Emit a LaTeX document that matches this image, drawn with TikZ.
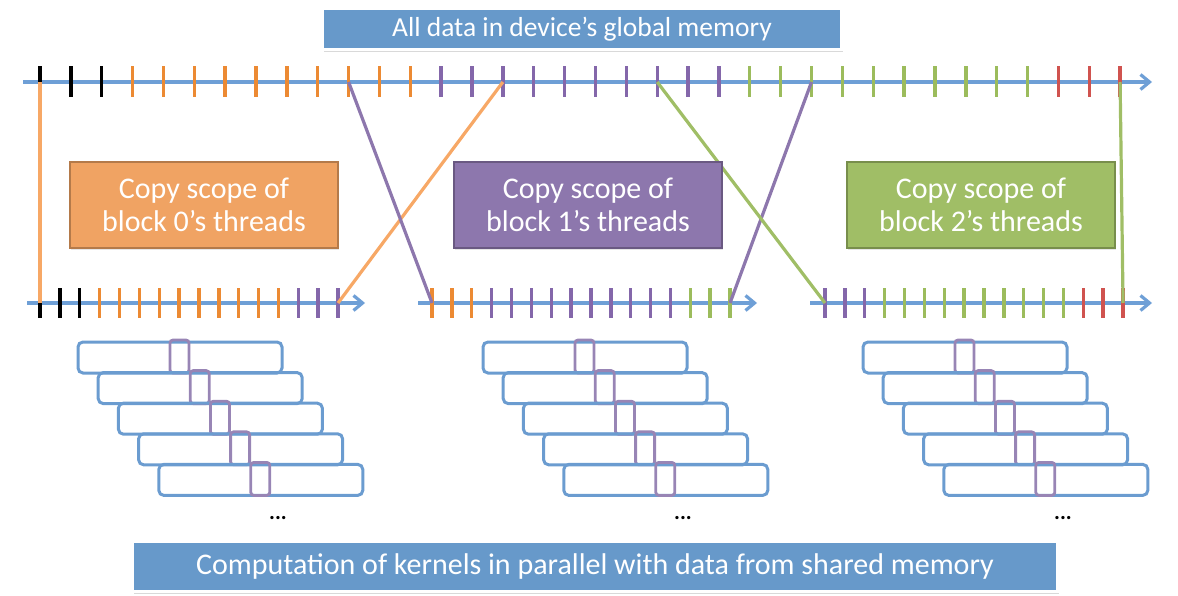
\documentclass[tikz,border=0pt]{standalone}
\usepackage{fontspec}
\setmainfont{Carlito}
\usetikzlibrary{arrows.meta,shadows}
\definecolor{sky}{RGB}{103,153,202}
\definecolor{axisblue}{RGB}{110,159,214}
\definecolor{rowblue}{RGB}{107,156,208}
\definecolor{tangerine}{RGB}{236,138,51}
\definecolor{peach}{RGB}{247,168,102}
\definecolor{plum}{RGB}{132,103,170}
\definecolor{lilac}{RGB}{141,119,173}
\definecolor{moss}{RGB}{156,188,92}
\definecolor{sage}{RGB}{160,190,102}
\definecolor{rust}{RGB}{208,83,79}
% colour of a slot by its place in global memory
\newcommand\pickcolor[1]{%
  \ifnum#1<3 \colorlet{tc}{black}\else
  \ifnum#1<13 \colorlet{tc}{tangerine}\else
  \ifnum#1<23 \colorlet{tc}{plum}\else
  \ifnum#1<33 \colorlet{tc}{moss}\else
  \colorlet{tc}{rust}\fi\fi\fi\fi}
\tikzset{
  axis/.style={draw=axisblue,line width=3.2pt,-{Straight Barb[length=9pt,width=15pt]}},
  tick/.style={draw=#1,line width=3.4pt},
  link/.style={draw=#1,line width=3.2pt},
  scopebox/.style={fill=#1,draw=#1!75!black,line width=2pt,minimum width=268pt,
    minimum height=86pt,align=center,text=white,font=\fontsize{30}{33}\selectfont,
    inner sep=0pt,drop shadow={opacity=0.2,shadow xshift=1pt,shadow yshift=-2pt}},
  banner/.style={fill=sky,draw=white,line width=3pt,text=white,inner sep=0pt,
    font=\fontsize{29}{32}\selectfont,
    drop shadow={opacity=0.3,shadow xshift=1pt,shadow yshift=-3pt}},
  row/.style={draw=rowblue,line width=3pt,rounded corners=5pt},
  slot/.style={draw=lilac!90!white,line width=2.8pt,rounded corners=3pt},
  dots/.style={font=\fontsize{22}{22}\selectfont\bfseries},
}
\begin{document}
\begin{tikzpicture}[x=1pt,y=-1pt]
  \useasboundingbox (0,0) rectangle (1178,596);
  % global memory
  \node[banner,minimum width=519pt,minimum height=41pt,font=\fontsize{27.5}{32}\selectfont]
    (global) at (582,29) {All data in device’s global memory};
  \coordinate (top-in) at (23,82);
  \coordinate (top-out) at (1152,82);
  \draw[axis] (top-in) -- (top-out);
  \foreach \i in {0,...,35}{
    \pickcolor{\i}
    \coordinate (t\i) at ({40+30.86*\i},82);
    \draw[tick=tc] (t\i) ++(0,-15.5) -- ++(0,31);
  }
  % shared memory of each block
  \foreach \k/\s/\a/\b in {0/27/40/365,1/418/432/757,2/810/825/1152}{
    \coordinate (in\k) at (\s,303);
    \coordinate (out\k) at (\b,303);
    \draw[axis] (in\k) -- (out\k);
    \foreach \j in {0,...,15}{
      \pgfmathtruncatemacro\g{10*\k+\j}
      \pickcolor{\g}
      \coordinate (b\k-\j) at ({\a+19.87*\j},303);
      \draw[tick=tc] (b\k-\j) ++(0,-15) -- ++(0,30);
    }
  }
  % what each block copies
  \draw[link=peach] (t0) -- (b0-0);
  \draw[link=peach] (b0-15) -- (t15);
  \draw[link=lilac] (t10) -- (b1-0);
  \draw[link=lilac] (b1-15) -- (t25);
  \draw[link=sage] (t20) -- (b2-0);
  \draw[link=sage] (t35) -- (b2-15);
  \node[scopebox=peach!97!black] (copy0) at (204,205) {Copy scope of\\block 0’s threads};
  \node[scopebox=lilac] (copy1) at (588,205) {Copy scope of\\block 1’s threads};
  \node[scopebox=sage] (copy2) at (981,205) {Copy scope of\\block 2’s threads};
  % kernels
  \foreach \x [count=\g] in {78,483,863}{
    \foreach \r in {0,...,4}{
      \draw[row] ({\x+20.2*\r},{342+30.6*\r}) rectangle ++(204,31);
      \draw[slot] ({\x+92+20.2*\r},{340+30.6*\r}) rectangle ++(19,33);
    }
    \node[dots] (more\g) at (\x+200,518) {...};
  }
  \node[banner,minimum width=925pt,minimum height=50pt,font=\fontsize{30}{32}\selectfont]
    (compute) at (595,566) {Computation of kernels in parallel with data from shared memory};
\end{tikzpicture}
\end{document}
